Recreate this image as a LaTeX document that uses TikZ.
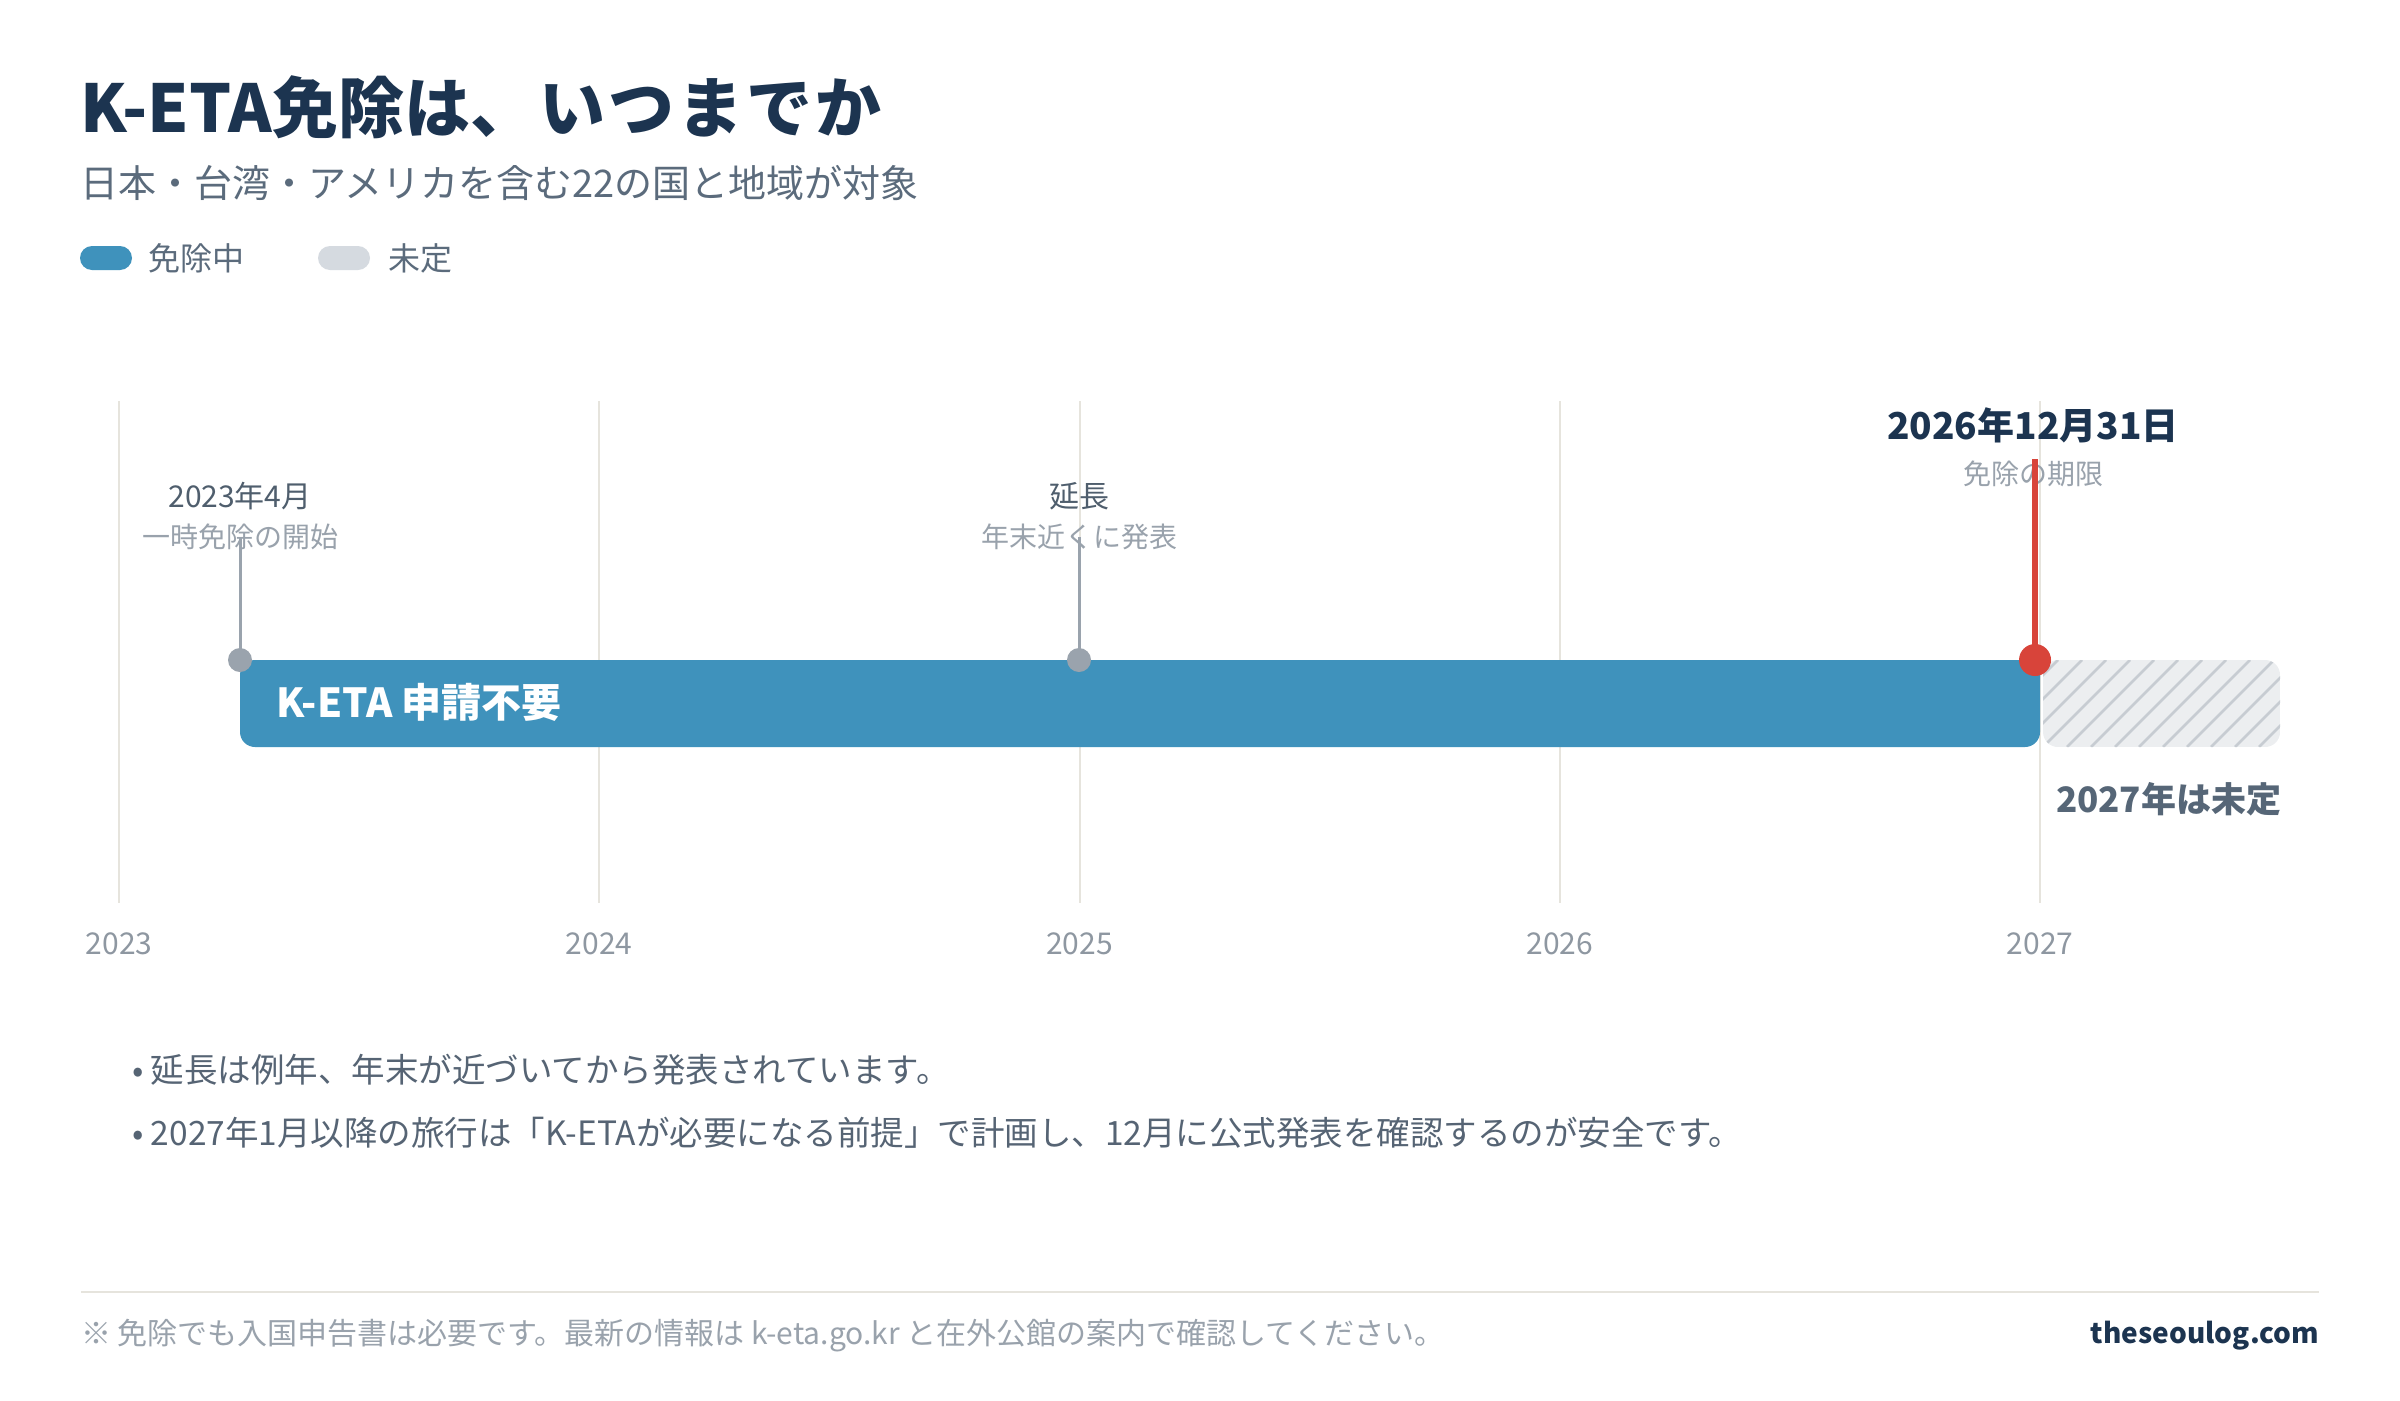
\documentclass[tikz,border=0pt]{standalone}
\usepackage{fontspec}
\setmainfont{Noto Sans CJK JP}
\usetikzlibrary{positioning}
\definecolor{navy}{HTML}{1C3450}
\definecolor{subc}{HTML}{5B6B7C}
\definecolor{barblue}{HTML}{3F92BC}
\definecolor{pendgray}{HTML}{D5DAE0}
\definecolor{gridc}{HTML}{E6E4DD}
\definecolor{yearc}{HTML}{8E97A1}
\definecolor{labelc}{HTML}{4F5E6D}
\definecolor{faintc}{HTML}{99A2AC}
\definecolor{stemc}{HTML}{9AA3AD}
\definecolor{redc}{HTML}{D8443A}
\definecolor{hatchbg}{HTML}{ECEEF0}
\definecolor{hatchc}{HTML}{C7CCD2}
\definecolor{pendtext}{HTML}{566677}
\definecolor{bulletc}{HTML}{566474}
\begin{document}
\begin{tikzpicture}[x=1pt,y=-1pt,every node/.style={inner sep=0pt,outer sep=0pt},
fs/.style={font=\fontsize{#1}{#1}\selectfont},fsb/.style={font=\fontsize{#1}{#1}\selectfont\bfseries},
gridline/.style={draw=gridc,line width=2pt},year/.style={fs=30,text=yearc},
mlabel/.style={fs=30,text=labelc},msub/.style={fs=28,text=faintc},
stem/.style={draw=stemc,line width=3pt},dot/.style={circle,fill=stemc,minimum size=24pt},
pill/.style={rounded corners=12pt,minimum width=52pt,minimum height=24pt},
legtext/.style={fs=32,text=subc,anchor=west},bullet/.style={fs=33.5,text=bulletc,anchor=west}]
\useasboundingbox (0,0) rectangle (2400,1400);
\fill[white] (0,0) rectangle (2400,1400);
% heading
\node[fsb=66,text=navy,anchor=base west] (title) at (80,132) {K-ETA免除は、\kern3pt い\kern3pt つ\kern3pt ま\kern3pt で\kern3pt か};
\node[fs=38,text=subc,anchor=base west] (subtitle) at (80,197) {日本・台湾・アメリカを含む22の国と地域が対象};
\node[pill,fill=barblue] (lg1) at (106,258) {};
\node[legtext,right=16pt of lg1] (lg1t) {免除中};
\node[pill,fill=pendgray] (lg2) at (344,258) {};
\node[legtext,right=18pt of lg2] (lg2t) {未定};
% years
\foreach \yr [count=\i from 0] in {2023,...,2027} {
  \draw[gridline] (119+480.25*\i,401) coordinate (g\i) -- (119+480.25*\i,903);
  \node[year] (y\i) at (119+480.25*\i,944) {\yr};
}
% bars
\fill[barblue,rounded corners=15pt] (240,660) rectangle (2040,747);
\node[fsb=40,text=white,anchor=base west] (barlabel) at (276,717) {K-ETA 申請不要};
\begin{scope}
  \clip[rounded corners=15pt] (2043,660) rectangle (2280,747);
  \fill[hatchbg] (2043,660) rectangle (2280,747);
  \foreach \k in {-4,...,10} \draw[hatchc,line width=2.7pt] (2043+24*\k,747) -- ++(87,-87);
\end{scope}
\node[fsb=35,text=pendtext,anchor=base west] (pend) at (2056,812) {2027年は未定};
% milestones
\node[mlabel] (m1) at (240,496) {2023年4月};
\node[msub] (m1s) at (240,537) {一時免除の開始};
\node[dot] (d1) at (240,660) {};
\draw[stem] (m1s.center) -- (d1.center);
\node[mlabel] (m2) at (1079,496) {延長};
\node[msub] (m2s) at (1079,537) {年末近くに発表};
\node[dot] (d2) at (1079,660) {};
\draw[stem] (m2s.center) -- (d2.center);
\node[fsb=37,text=navy] (m3) at (2033,425) {2026年12月31日};
\node[msub] (m3s) at (2033,474) {免除の期限};
\coordinate (r3) at (2035,459);
\node[dot,fill=redc,minimum size=32pt] (d3) at (2035,660) {};
\draw[redc,line width=6pt] (r3) -- (d3.center);
% notes
\node[bullet] (b1) at (132,1070) {• 延長は例年、年末が近づいてから発表されています。};
\node[bullet] (b2) at (132,1133) {• 2027年1月以降の旅行は「K-ETAが必要になる前提」で計画し、12月に公式発表を確認するのが安全です。};
\draw[gridline] (81,1292) coordinate (f1) -- (2319,1292) coordinate (f2);
\node[fs=30,text=faintc,anchor=west] (note) at (81,1336) {※ 免除でも入国申告書は必要です。最新の情報は k-eta.go.kr と在外公館の案内で確認してください。};
\node[fsb=28,text=navy,anchor=east] (site) at (2319,1336) {theseoulog.com};
\end{tikzpicture}
\end{document}
